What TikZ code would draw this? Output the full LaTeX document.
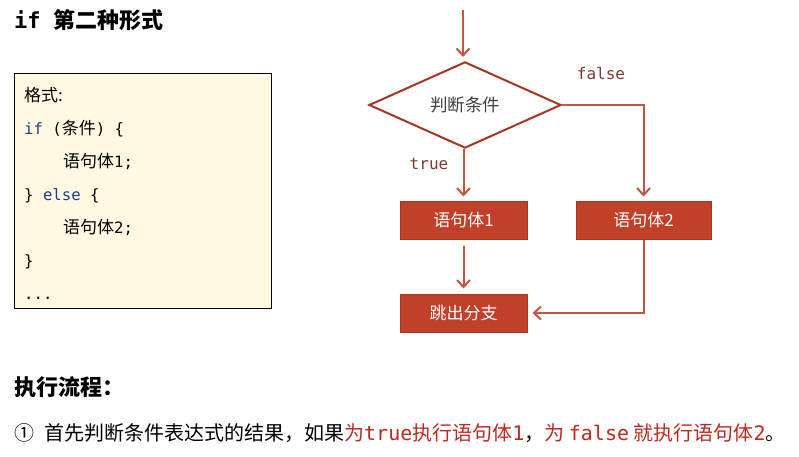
\documentclass[tikz,border=0pt]{standalone}
\usepackage{fontspec}
\setmainfont{Noto Sans CJK SC}
\setmonofont{DejaVu Sans Mono}
\newfontfamily\codemono[Scale=0.92]{DejaVu Sans Mono}
\usetikzlibrary{arrows.meta,positioning,shapes.geometric}

\definecolor{lineRed}{HTML}{C4563F}
\definecolor{boxRed}{HTML}{C0402A}
\definecolor{boxEdge}{HTML}{A8351F}
\definecolor{codeBlue}{HTML}{1C3C8C}
\definecolor{labelBrown}{HTML}{7B3A2C}
\definecolor{noteRed}{HTML}{C0281E}
\definecolor{paper}{HTML}{FFF9E1}

\newcommand{\cm}[1]{{\codemono #1}}

\tikzset{
    flow/.style={lineRed, line width=2pt, -{Straight Barb[length=7pt,width=13pt,line width=2pt]}},
    stmtbox/.style={rectangle, fill=boxRed, draw=boxEdge, line width=1pt, text=white,
        minimum width=127pt, minimum height=38pt, inner sep=0pt, font=\fontsize{17}{17}\selectfont},
    codeline/.style={anchor=west, inner sep=0pt, text height=12pt, text depth=3pt,
        font=\fontsize{17}{17}\selectfont},
    branchlabel/.style={labelBrown, inner sep=0pt, font=\ttfamily\fontsize{16}{16}\selectfont}
}

\begin{document}
\begin{tikzpicture}[x=1pt, y=-1pt]
\useasboundingbox (0,0) rectangle (799,456);

% ========== 标题 ==========
\node[anchor=west, inner sep=0pt, font=\bfseries\fontsize{22}{22}\selectfont] (title) at (14,20)
    {\texttt{if\ }第二种形式};

% ========== 左侧：格式代码框 ==========
\node[draw=black, fill=paper, line width=0.8pt, minimum width=257pt, minimum height=235pt,
      inner sep=0pt, anchor=north west] (fmt) at (14,73) {};
\node[codeline] (l1) at (24,97)  {格式:};
\node[codeline] (l2) at (24,130) {\cm{\textcolor{codeBlue}{if} (}条件\cm{) \{}};
\node[codeline] (l3) at (63,163) {语句体\cm{1;}};
\node[codeline] (l4) at (24,196) {\cm{\} \textcolor{codeBlue}{else} \{}};
\node[codeline] (l5) at (63,229) {语句体\cm{2;}};
\node[codeline] (l6) at (24,262) {\cm{\}}};
\node[codeline] (l7) at (24,295) {\cm{...}};

% ========== 右侧：流程图 ==========
\coordinate (entry) at (463,10);
\node[diamond, draw=boxEdge, line width=2pt, fill=white, minimum width=192pt, minimum height=86pt,
      inner sep=0pt, font=\fontsize{17.5}{17.5}\selectfont, text=black!75] (cond) at (465,105) {判断条件};
\node[stmtbox] (body1) at (463.5,220) {语句体1};
\node[stmtbox, minimum width=135pt] (body2) at (643.5,220) {语句体2};
\node[stmtbox] (exit) at (463.5,313) {跳出分支};

% 分支标签
\node[branchlabel] (lblfalse) at (601,73) {false};
\node[branchlabel] (lbltrue) at (429,164) {true};

% 连线
\draw[flow, shorten >=4pt] (entry) -- (entry |- cond.north);
\draw[flow, shorten >=4pt] (cond.south -| body1.north) -- (body1.north);
\draw[flow, shorten >=4pt] (cond.east) -| (body2.north);
\draw[flow, shorten <=6pt, shorten >=5pt] (body1.south) -- (exit.north);
\draw[flow, shorten >=5pt] (body2.south) |- (exit.east);

% ========== 执行流程 ==========
\node[anchor=west, inner sep=0pt, font=\bfseries\fontsize{22}{22}\selectfont] (steps) at (14,387) {执行流程：};
\node[anchor=west, inner sep=0pt, font=\fontsize{20}{20}\selectfont] (step1) at (14,433)
    {①\hspace{0.5em}首先判断条件表达式的结果，如果\textcolor{noteRed}{为\texttt{true}执行语句体\texttt{1}}，\textcolor{noteRed}{为 \texttt{false} 就执行语句体\texttt{2}}。};

\end{tikzpicture}
\end{document}
